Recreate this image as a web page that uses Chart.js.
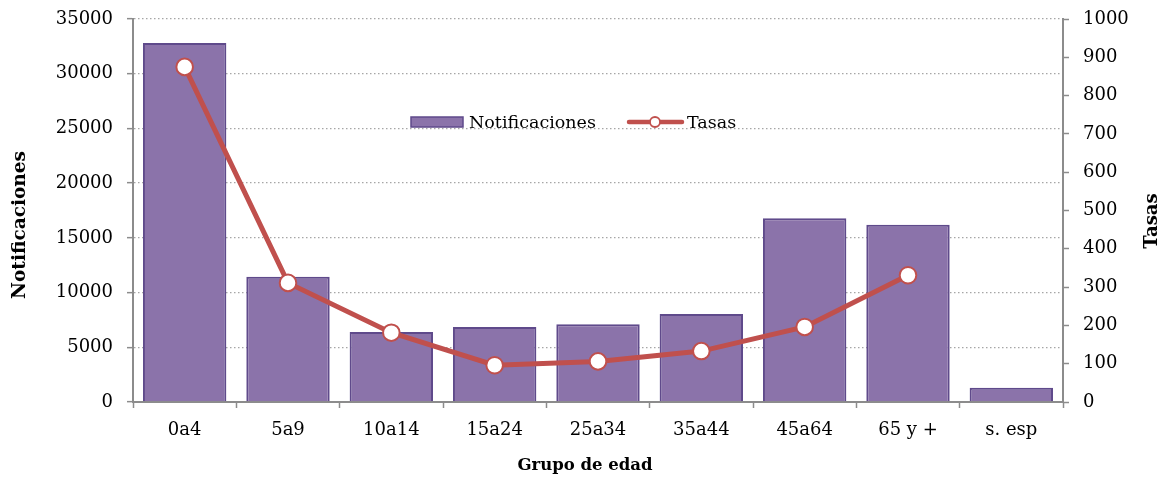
<!DOCTYPE html>
<html>
<head>
<meta charset="utf-8">
<script src="https://cdn.jsdelivr.net/npm/chart.js"></script>
<style>
  html, body { margin: 0; padding: 0; background: #fff; }
  #wrap { width: 1169px; height: 478px; }
</style>
</head>
<body>
<div id="wrap"><canvas id="myChart"></canvas></div>
<script>
// datos
const grupos = ['0a4', '5a9', '10a14', '15a24', '25a34', '35a44', '45a64', '65 y +', 's. esp'];
const notificaciones = [32800, 11450, 6400, 6850, 7100, 8050, 16800, 16200, 1300];
const tasas = [875, 311, 181, 96, 106, 133, 196, 331, null];

const tituloIzq = 'Notificaciones';
const tituloDer = 'Tasas';
const tituloX = 'Grupo de edad';

const SERIF = "'DejaVu Serif', serif";
const gris = '#8C8C8C';

Chart.defaults.font.family = SERIF;
Chart.defaults.color = '#000';

// titulos de ejes y leyenda dentro del area
const extras = {
    id: 'extras',
    afterDraw(chart) {
        const c = chart.ctx;
        const ds = chart.data.datasets;
        c.save();
        c.fillStyle = '#000';
        c.textAlign = 'center';
        c.textBaseline = 'middle';
        c.font = "bold 16.5px " + SERIF;
        c.fillText(tituloX, 585, 466);
        c.save();
        c.font = "bold 18.5px " + SERIF;
        c.translate(20, 225);
        c.rotate(-Math.PI / 2);
        c.fillText(tituloIzq, 0, 0);
        c.restore();
        c.save();
        c.font = "bold 18px " + SERIF;
        c.translate(1152, 221);
        c.rotate(-Math.PI / 2);
        c.fillText(tituloDer, 0, 0);
        c.restore();

        // leyenda
        c.font = "17.5px " + SERIF;
        c.textAlign = 'left';
        c.textBaseline = 'alphabetic';
        c.fillStyle = ds[0].backgroundColor;
        c.fillRect(411, 117, 52, 10);
        c.strokeStyle = ds[0].borderColor;
        c.lineWidth = 1.5;
        c.strokeRect(411, 117, 52, 10);
        c.fillStyle = '#000';
        c.fillText(ds[0].label, 469, 128);

        c.strokeStyle = ds[1].borderColor;
        c.lineWidth = 4.5;
        c.lineCap = 'round';
        c.beginPath();
        c.moveTo(629, 122);
        c.lineTo(682, 122);
        c.stroke();
        c.beginPath();
        c.arc(655, 122, 5, 0, Math.PI * 2);
        c.fillStyle = '#fff';
        c.fill();
        c.lineWidth = 1.8;
        c.stroke();
        c.fillStyle = '#000';
        c.fillText(ds[1].label, 687, 128);
        c.restore();
    }
};

const sinComa = (v) => String(v);

// ancho fijo del eje y sin relleno extra arriba/abajo
function fijarAncho(w) {
    return function (scale) {
        scale.width = w;
        scale.paddingTop = 0;
        scale.paddingBottom = 0;
    };
}

const ctx = document.getElementById('myChart').getContext('2d');
const myChart = new Chart(ctx, {
    type: 'bar',
    plugins: [extras],
    data: {
        labels: grupos,
        datasets: [{
            label: 'Notificaciones',
            data: notificaciones,
            backgroundColor: '#8B73AA',
            borderColor: '#5F4A8B',
            borderWidth: 2,
            barPercentage: 0.807,
            categoryPercentage: 1,
            yAxisID: 'y',
            order: 1
        },
        {
            label: 'Tasas',
            type: 'line',
            data: tasas,
            borderColor: '#C0504D',
            borderWidth: 5,
            pointRadius: 8.3,
            pointBorderWidth: 2,
            pointBackgroundColor: '#fff',
            pointBorderColor: '#C0504D',
            tension: 0,
            yAxisID: 'y1',
            order: 0
        }]
    },
    options: {
        responsive: true,
        maintainAspectRatio: false,
        animation: false,
        layout: { padding: { top: 19, left: 0, right: 0, bottom: 0 } },
        plugins: {
            legend: { display: false },
            tooltip: { enabled: false }
        },
        scales: {
            x: {
                offset: true,
                afterFit(scale) { scale.height = 76; scale.paddingLeft = 0; scale.paddingRight = 0; },
                grid: {
                    offset: true,
                    drawOnChartArea: false,
                    tickLength: 6,
                    tickColor: gris,
                    tickWidth: 1.5
                },
                border: { color: gris, width: 2 },
                ticks: { padding: 12, font: { size: 18 }, color: '#000' }
            },
            y: {
                position: 'left',
                min: 0,
                max: 35000,
                afterFit: fijarAncho(133),
                ticks: { stepSize: 5000, padding: 14, font: { size: 18 }, color: '#000', callback: sinComa },
                grid: {
                    color: '#A6A6A6',
                    lineWidth: 1.3,
                    tickLength: 6,
                    tickColor: gris,
                    tickWidth: 1.5,
                    tickBorderDash: []
                },
                border: { color: gris, width: 2, dash: [1.5, 2.5] }
            },
            y1: {
                position: 'right',
                min: 0,
                max: 1000,
                afterFit: fijarAncho(106),
                ticks: { stepSize: 100, padding: 14, font: { size: 18 }, color: '#000', callback: sinComa },
                grid: {
                    drawOnChartArea: false,
                    tickLength: 6,
                    tickColor: gris,
                    tickWidth: 1.5
                },
                border: { color: gris, width: 2 }
            }
        }
    }
});
</script>
</body>
</html>
